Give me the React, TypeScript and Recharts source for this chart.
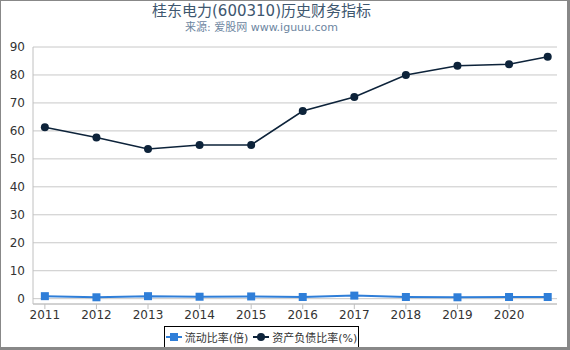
import { LineChart, Line, XAxis, YAxis, CartesianGrid, Legend } from 'recharts';

// years on a time axis; the last point is a Q3 report (2021-09)
const periods = [2011, 2012, 2013, 2014, 2015, 2016, 2017, 2018, 2019, 2020, 2020.75];
const currentRatio = [0.9, 0.5, 0.9, 0.7, 0.8, 0.6, 1.1, 0.6, 0.5, 0.6, 0.6];
const debtRatio = [61.3, 57.6, 53.5, 55.0, 55.0, 67.1, 72.1, 80.0, 83.3, 83.8, 86.5];
const yearTicks = [2011, 2012, 2013, 2014, 2015, 2016, 2017, 2018, 2019, 2020];
const valueTicks = [0, 10, 20, 30, 40, 50, 60, 70, 80, 90];

const seriesNames = ['流动比率(倍)', '资产负债比率(%)'];
const colors = ['#2f7ed8', '#0d233a'];

const data = periods.map((p, i) => ({
  period: p,
  current: currentRatio[i],
  debt: debtRatio[i],
}));

const font = '"DejaVu Sans", "Noto Sans CJK SC", sans-serif';

const SquareDot = (props: any) => {
  const { cx, cy } = props;
  if (cx == null || cy == null) return null;
  return <rect x={cx - 4} y={cy - 4} width={8} height={8} fill={colors[0]} />;
};

const LegendBox = () => (
  <div
    style={{
      boxSizing: 'border-box',
      height: 22,
      width: 195,
      border: '1px solid #000',
      display: 'flex',
      alignItems: 'center',
      justifyContent: 'center',
      fontFamily: font,
      fontSize: 11,
      color: '#333',
      background: '#fff',
      whiteSpace: 'nowrap',
    }}
  >
    <svg width={16} height={10} style={{ marginRight: 3 }}>
      <line x1={0} y1={5} x2={16} y2={5} stroke={colors[0]} strokeWidth={2} />
      <rect x={4} y={1} width={8} height={8} fill={colors[0]} />
    </svg>
    <span style={{ marginRight: 5 }}>{seriesNames[0]}</span>
    <svg width={16} height={10} style={{ marginRight: 3 }}>
      <line x1={0} y1={5} x2={16} y2={5} stroke={colors[1]} strokeWidth={2} />
      <circle cx={8} cy={5} r={4} fill={colors[1]} />
    </svg>
    <span>{seriesNames[1]}</span>
  </div>
);

export default function App() {
  return (
    <div style={{ position: 'absolute', left: 0, top: 0, width: 570, height: 350, background: '#fff' }}>
      <div
        style={{
          position: 'absolute', top: 1, left: 0, width: 523, textAlign: 'center',
          fontFamily: font, fontSize: 15, color: '#3e576f', lineHeight: '20px',
        }}
      >
        桂东电力(600310)历史财务指标
      </div>
      <div
        style={{
          position: 'absolute', top: 20, left: 0, width: 523, textAlign: 'center',
          fontFamily: font, fontSize: 11, color: '#6d869f', lineHeight: '16px',
        }}
      >
        来源: 爱股网 www.iguuu.com
      </div>
      <LineChart
        width={570}
        height={350}
        data={data}
        margin={{ top: 47, right: 13, left: 0, bottom: 2 }}
        style={{ fontFamily: font }}
      >
        <CartesianGrid stroke="#c8c8c8" vertical={false} />
        <XAxis
          dataKey="period"
          type="number"
          domain={[2010.77, 2020.93]}
          ticks={yearTicks}
          allowDataOverflow
          height={22}
          tickSize={5}
          tickMargin={1}
          stroke="#c0c0c0"
          tick={{ fill: '#333', fontSize: 12 }}
          interval={0}
        />
        <YAxis
          domain={[-1.9, 90]}
          ticks={valueTicks}
          allowDataOverflow
          width={33}
          tickSize={0}
          tickMargin={8}
          stroke="#c0c0c0"
          tick={{ fill: '#333', fontSize: 12 }}
          interval={0}
        />
        <Legend
          verticalAlign="bottom"
          content={<LegendBox />}
          wrapperStyle={{ left: 164, width: 195 }}
        />
        <Line
          dataKey="current"
          name={seriesNames[0]}
          stroke={colors[0]}
          strokeWidth={2}
          dot={<SquareDot />}
          isAnimationActive={false}
        />
        <Line
          dataKey="debt"
          name={seriesNames[1]}
          stroke={colors[1]}
          strokeWidth={1.5}
          dot={{ r: 4, fill: colors[1], stroke: colors[1], strokeWidth: 0 }}
          isAnimationActive={false}
        />
      </LineChart>
      <div
        style={{
          position: 'absolute', left: 0, top: 0, width: 570, height: 350, boxSizing: 'border-box',
          borderLeft: '1px solid #888', borderTop: '1px solid #888',
          borderRight: '3px solid #888', borderBottom: '3px solid #888', pointerEvents: 'none',
        }}
      />
    </div>
  );
}
